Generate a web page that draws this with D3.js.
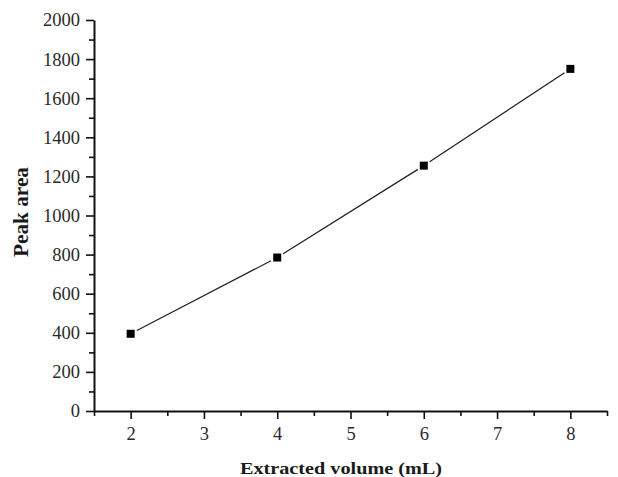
<!DOCTYPE html>
<html>
<head>
<meta charset="utf-8">
<script src="https://cdn.jsdelivr.net/npm/d3@7"></script>
<style>
  body { margin: 0; background: #fff; }
  text { font-family: "Liberation Serif", "Times New Roman", serif; }
</style>
</head>
<body>
<div id="here"></div>
<script>
var w = 618, h = 477;
var margin = {top: 20, right: 11, bottom: 66, left: 94};

// data
var volumes = [2, 4, 6, 8];
var peakAreas = [395, 785, 1255, 1750];
var xTicks = [2, 3, 4, 5, 6, 7, 8];
var yTicks = [0, 200, 400, 600, 800, 1000, 1200, 1400, 1600, 1800, 2000];

var points = volumes.map(function(v, i) { return {x: v, y: peakAreas[i]}; });

var x = d3.scaleLinear().domain([1.5, 8.5]).range([margin.left, w - margin.right]);
var y = d3.scaleLinear().domain([0, 2000]).range([h - margin.bottom, margin.top]);

var svg = d3.select('#here').append("svg")
  .attr("width", w)
  .attr("height", h);

// minor ticks
var xMinor = d3.range(1.5, 8.51, 0.5).filter(function(d) { return d % 1 !== 0; });
var yMinor = d3.range(100, 2000, 200);

svg.append("g")
  .attr("transform", "translate(0," + y(0) + ")")
  .call(d3.axisBottom(x).tickValues(xTicks).tickFormat(d3.format("d"))
    .tickSize(8).tickPadding(8).tickSizeOuter(0));
svg.append("g")
  .attr("transform", "translate(0," + y(0) + ")")
  .call(d3.axisBottom(x).tickValues(xMinor).tickSize(5).tickFormat("").tickSizeOuter(0))
  .select(".domain").remove();

svg.append("g")
  .attr("transform", "translate(" + x(1.5) + ",0)")
  .call(d3.axisLeft(y).tickValues(yTicks).tickFormat(d3.format("d"))
    .tickSize(8).tickPadding(6).tickSizeOuter(0));
svg.append("g")
  .attr("transform", "translate(" + x(1.5) + ",0)")
  .call(d3.axisLeft(y).tickValues(yMinor).tickSize(5).tickFormat("").tickSizeOuter(0))
  .select(".domain").remove();

svg.selectAll(".domain").attr("stroke", "#111").attr("stroke-width", 2);
svg.selectAll(".tick line").attr("stroke", "#111").attr("stroke-width", 1.6);
svg.selectAll(".tick text")
  .style("font-family", "'Liberation Serif', serif")
  .style("font-size", "18.5px")
  .attr("fill", "#2a2a2a");

// connecting segments with small gaps at markers
var gap = 7;
svg.selectAll(".seg")
  .data(d3.pairs(points))
  .enter().append("line")
  .attr("class", "seg")
  .each(function(d) {
    var x1 = x(d[0].x), y1 = y(d[0].y), x2 = x(d[1].x), y2 = y(d[1].y);
    var len = Math.sqrt((x2 - x1) * (x2 - x1) + (y2 - y1) * (y2 - y1));
    var ux = (x2 - x1) / len, uy = (y2 - y1) / len;
    d3.select(this)
      .attr("x1", x1 + ux * gap).attr("y1", y1 + uy * gap)
      .attr("x2", x2 - ux * gap).attr("y2", y2 - uy * gap);
  })
  .attr("stroke", "#222")
  .attr("stroke-width", 1.3);

svg.selectAll(".pt")
  .data(points)
  .enter().append("rect")
  .attr("class", "pt")
  .attr("x", function(d) { return x(d.x) - 4; })
  .attr("y", function(d) { return y(d.y) - 4; })
  .attr("width", 8)
  .attr("height", 8)
  .attr("fill", "#000");

svg.append("text")
  .attr("x", 341)
  .attr("y", 474)
  .attr("text-anchor", "middle")
  .attr("textLength", 202)
  .attr("lengthAdjust", "spacingAndGlyphs")
  .style("font-size", "17.5px")
  .style("font-weight", "bold")
  .attr("fill", "#1a1a1a")
  .text("Extracted volume (mL)");

svg.append("text")
  .attr("transform", "translate(28,212) rotate(-90)")
  .attr("text-anchor", "middle")
  .attr("textLength", 90)
  .attr("lengthAdjust", "spacingAndGlyphs")
  .style("font-size", "20px")
  .style("font-weight", "bold")
  .attr("fill", "#1a1a1a")
  .text("Peak area");
</script>
</body>
</html>
